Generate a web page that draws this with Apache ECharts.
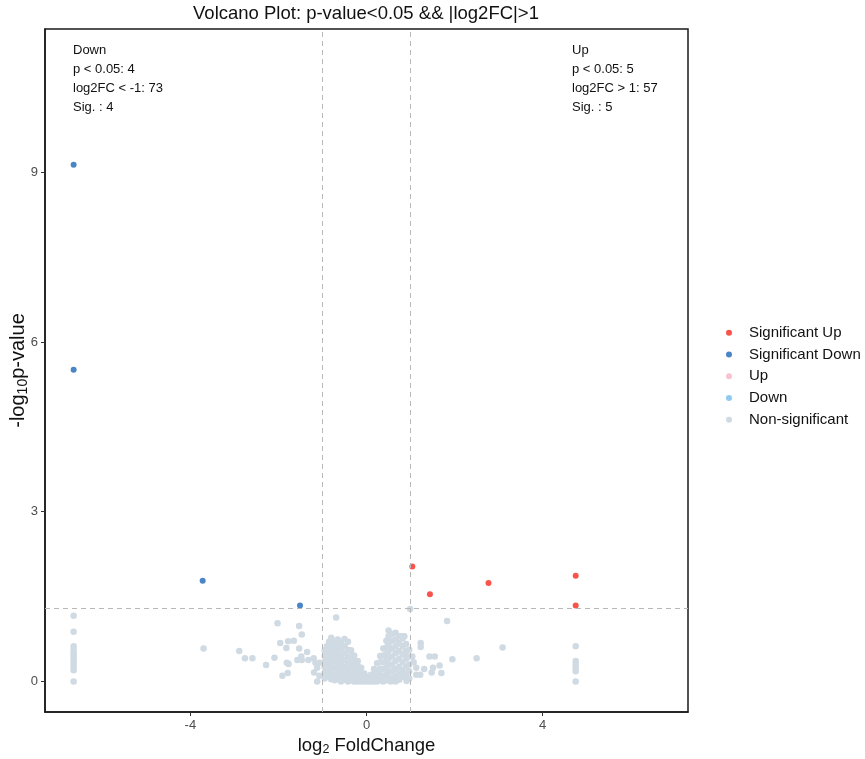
<!DOCTYPE html>
<html>
<head>
<meta charset="utf-8">
<script src="https://cdn.jsdelivr.net/npm/echarts@6/dist/echarts.min.js"></script>
<style>
  html, body { margin: 0; padding: 0; background: #fff; }
  #main { width: 865px; height: 759px; }
</style>
</head>
<body>
<div id="main"></div>
<script>
// groups shown in the legend
var groups = ['Significant Up', 'Significant Down', 'Up', 'Down', 'Non-significant'];
var groupColors = ['#F8544B', '#4A86C5', '#F8C3CE', '#8ECBF2', '#D0DAE3'];

// [log2FC, -log10 p]
var sigUp = [[1.04, 2.03], [1.44, 1.54], [2.77, 1.74], [4.75, 1.87], [4.75, 1.34]];
var sigDown = [[-6.65, 9.13], [-6.65, 5.51], [-3.72, 1.78], [-1.51, 1.34]];
var up = [];
var down = [];

var nonSig = [
  // column at the left end
  [-6.65, 1.16], [-6.65, 0.88], [-6.65, 0.62], [-6.65, 0.56], [-6.65, 0.50], [-6.65, 0.45],
  [-6.65, 0.40], [-6.65, 0.35], [-6.65, 0.30], [-6.65, 0.25], [-6.65, 0.20], [-6.65, 0.0],
  // column at the right end
  [4.75, 0.62], [4.75, 0.36], [4.75, 0.30], [4.75, 0.24], [4.75, 0.18], [4.75, 0.0],
  // scattered
  [-3.70, 0.58], [-2.89, 0.54], [-2.76, 0.41], [-2.59, 0.41], [-2.28, 0.29], [-2.09, 0.42],
  [-2.02, 1.03], [-1.96, 0.68], [-1.78, 0.71], [-1.65, 0.72], [-1.82, 0.59], [-1.53, 0.58],
  [-1.35, 0.52], [-1.57, 0.38], [-1.48, 0.44], [-1.47, 0.38], [-1.32, 0.38], [-1.20, 0.41],
  [-1.16, 0.33], [-1.81, 0.33], [-1.77, 0.31], [-1.91, 0.10], [-1.79, 0.15], [-1.12, 0.24],
  [-1.19, 0.16], [-1.12, 0.0], [-1.07, 0.10], [-1.07, 0.33], [-1.53, 0.98], [-1.47, 0.83],
  [-0.69, 1.13], [0.99, 1.28], [1.83, 1.07], [1.95, 0.39], [2.50, 0.41], [3.09, 0.60],
  [1.23, 0.68], [1.23, 0.61], [1.43, 0.44], [1.55, 0.44], [1.51, 0.24], [1.66, 0.28],
  [1.70, 0.15], [1.48, 0.16], [1.31, 0.22], [1.22, 0.12], [1.13, 0.12], [1.07, 0.34],
  [0.86, 0.80], [0.80, 0.80], [0.86, 0.49], [0.91, 0.01], [1.13, 0.24], [1.04, 0.44],
  // central cloud, left arm
  [-0.95, 0.55], [-0.95, 0.45], [-0.95, 0.35], [-0.95, 0.25], [-0.95, 0.15], [-0.95, 0.05],
  [-0.90, 0.62], [-0.90, 0.50], [-0.90, 0.40], [-0.90, 0.30], [-0.90, 0.20], [-0.90, 0.10],
  [-0.85, 0.70], [-0.85, 0.58], [-0.85, 0.46], [-0.85, 0.34], [-0.85, 0.22], [-0.85, 0.08],
  [-0.80, 0.77], [-0.80, 0.65], [-0.80, 0.52], [-0.80, 0.40], [-0.80, 0.28], [-0.80, 0.16], [-0.80, 0.04],
  [-0.72, 0.70], [-0.72, 0.60], [-0.72, 0.48], [-0.72, 0.36], [-0.72, 0.24], [-0.72, 0.12], [-0.72, 0.02],
  [-0.65, 0.74], [-0.65, 0.64], [-0.65, 0.54], [-0.65, 0.42], [-0.65, 0.30], [-0.65, 0.18], [-0.65, 0.06],
  [-0.58, 0.68], [-0.58, 0.58], [-0.58, 0.46], [-0.58, 0.34], [-0.58, 0.22], [-0.58, 0.10], [-0.58, 0.0],
  [-0.50, 0.75], [-0.50, 0.62], [-0.50, 0.50], [-0.50, 0.38], [-0.50, 0.26], [-0.50, 0.14], [-0.50, 0.03],
  [-0.42, 0.70], [-0.42, 0.56], [-0.42, 0.44], [-0.42, 0.32], [-0.42, 0.20], [-0.42, 0.08], [-0.42, 0.0],
  [-0.35, 0.55], [-0.35, 0.45], [-0.35, 0.35], [-0.35, 0.24], [-0.35, 0.12], [-0.35, 0.02],
  [-0.28, 0.46], [-0.28, 0.36], [-0.28, 0.26], [-0.28, 0.16], [-0.28, 0.06], [-0.28, 0.0],
  [-0.20, 0.36], [-0.20, 0.28], [-0.20, 0.18], [-0.20, 0.08], [-0.20, 0.0],
  [-0.12, 0.24], [-0.12, 0.15], [-0.12, 0.06], [-0.12, 0.0],
  [-0.05, 0.14], [-0.05, 0.05], [-0.05, 0.0],
  // bottom of the V
  [0.03, 0.08], [0.03, 0.0], [0.0, 0.02], [-0.15, 0.03], [0.20, 0.02], [0.35, 0.04], [0.55, 0.0],
  // central cloud, right arm
  [0.10, 0.12], [0.10, 0.03], [0.10, 0.0],
  [0.17, 0.22], [0.17, 0.12], [0.17, 0.03], [0.17, 0.0],
  [0.24, 0.32], [0.24, 0.20], [0.24, 0.10], [0.24, 0.0],
  [0.31, 0.45], [0.31, 0.34], [0.31, 0.22], [0.31, 0.12], [0.31, 0.02],
  [0.38, 0.58], [0.38, 0.46], [0.38, 0.34], [0.38, 0.22], [0.38, 0.10], [0.38, 0.0],
  [0.45, 0.72], [0.45, 0.60], [0.45, 0.48], [0.45, 0.36], [0.45, 0.24], [0.45, 0.12], [0.45, 0.02],
  [0.50, 0.90], [0.50, 0.80], [0.50, 0.66], [0.50, 0.54], [0.50, 0.40], [0.50, 0.28], [0.50, 0.16], [0.50, 0.05],
  [0.58, 0.84], [0.58, 0.72], [0.58, 0.58], [0.58, 0.44], [0.58, 0.30], [0.58, 0.18], [0.58, 0.06],
  [0.66, 0.86], [0.66, 0.74], [0.66, 0.62], [0.66, 0.50], [0.66, 0.36], [0.66, 0.22], [0.66, 0.10], [0.66, 0.0],
  [0.74, 0.80], [0.74, 0.68], [0.74, 0.54], [0.74, 0.40], [0.74, 0.26], [0.74, 0.14], [0.74, 0.03],
  [0.82, 0.76], [0.82, 0.62], [0.82, 0.48], [0.82, 0.34], [0.82, 0.20], [0.82, 0.08],
  [0.90, 0.66], [0.90, 0.54], [0.90, 0.40], [0.90, 0.26], [0.90, 0.12],
  [0.97, 0.56], [0.97, 0.44], [0.97, 0.30], [0.97, 0.18], [0.97, 0.05]
];

// axis ticks and thresholds
var xTicks = [-4, 0, 4];
var yTicks = [0, 3, 6, 9];
var fcCut = 1;
var pCut = 1.301; // -log10(0.05)

var downText = ['Down', 'p < 0.05: 4', 'log2FC < -1: 73', 'Sig. : 4'];
var upText = ['Up', 'p < 0.05: 5', 'log2FC > 1: 57', 'Sig. : 5'];

var dom = document.getElementById('main');
var myChart = echarts.init(dom);
var option = null;

var seriesData = [sigUp, sigDown, up, down, nonSig];
var series = [];
// draw non-significant first so the coloured points sit on top
for (var i = seriesData.length - 1; i >= 0; i--) {
    series.push({
        name: groups[i],
        type: 'scatter',
        data: seriesData[i],
        symbolSize: i === 4 ? 6.5 : 6,
        itemStyle: { color: groupColors[i], opacity: 1 },
        z: i === 4 ? 2 : 3,
        animation: false
    });
}
// threshold lines
series[0].markLine = {
    silent: true,
    symbol: 'none',
    label: { show: false },
    lineStyle: { color: '#B8B8B8', type: [5, 4], width: 1 },
    data: [{ xAxis: -fcCut }, { xAxis: fcCut }, { yAxis: pCut }],
    animation: false
};

var font = 'Arial, "Liberation Sans", Helvetica, sans-serif';

option = {
    backgroundColor: '#fff',
    textStyle: { fontFamily: font },
    title: {
        text: 'Volcano Plot: p-value<0.05 && |log2FC|>1',
        left: 361,
        top: -1,
        textAlign: 'center',
        textStyle: { fontSize: 18.5, fontWeight: 'normal', color: '#111', fontFamily: font }
    },
    legend: {
        orient: 'vertical',
        left: 721,
        top: 319,
        data: groups,
        icon: 'circle',
        itemWidth: 6,
        itemHeight: 6,
        itemGap: 4,
        textStyle: { fontSize: 15, lineHeight: 17.7, color: '#111', fontFamily: font, padding: [0, 0, 0, 12] }
    },
    grid: {
        left: 45, right: 177, top: 29, bottom: 47,
        show: true,
        borderColor: '#1a1a1a',
        borderWidth: 1.5,
        containLabel: false,
        outerBoundsMode: 'none'
    },
    xAxis: {
        type: 'value',
        min: -7.3,
        max: 7.3,
        name: 'log{sub|2} FoldChange',
        nameLocation: 'middle',
        nameGap: 23,
        nameMoveOverlap: false,
        nameTextStyle: {
            fontSize: 18.5, color: '#111', fontFamily: font,
            rich: { sub: { fontSize: 12.5, verticalAlign: 'bottom', padding: [8, 0, 0, 0], fontFamily: font, color: '#111' } }
        },
        splitLine: { show: false },
        axisLine: { show: true, onZero: false, lineStyle: { color: '#1a1a1a', width: 1.5 } },
        axisTick: { show: true, length: 4, lineStyle: { color: '#333' }, customValues: xTicks },
        axisLabel: { color: '#4D4D4D', fontSize: 13, margin: 7, customValues: xTicks, fontFamily: font }
    },
    yAxis: {
        type: 'value',
        min: -0.54,
        max: 11.53,
        name: '-log{sub|10}p-value',
        nameLocation: 'middle',
        nameRotate: 90,
        nameGap: 15,
        nameMoveOverlap: false,
        nameTextStyle: {
            fontSize: 20, color: '#111', fontFamily: font,
            rich: { sub: { fontSize: 14, verticalAlign: 'bottom', padding: [9, 0, 0, 0], fontFamily: font, color: '#111' } }
        },
        splitLine: { show: false },
        axisLine: { show: true, onZero: false, lineStyle: { color: '#1a1a1a', width: 1.5 } },
        axisTick: { show: true, length: 4, lineStyle: { color: '#333' }, customValues: yTicks },
        axisLabel: { color: '#4D4D4D', fontSize: 13, margin: 7, customValues: yTicks, fontFamily: font }
    },
    graphic: [
        {
            type: 'text', left: 73, top: 41, silent: true,
            style: { text: downText.join('\n'), lineHeight: 19, fill: '#111', font: '13px ' + font }
        },
        {
            type: 'text', left: 572, top: 41, silent: true,
            style: { text: upText.join('\n'), lineHeight: 19, fill: '#111', font: '13px ' + font }
        }
    ],
    series: series
};

if (option && typeof option === "object") {
    myChart.setOption(option, true);
}
</script>
</body>
</html>
